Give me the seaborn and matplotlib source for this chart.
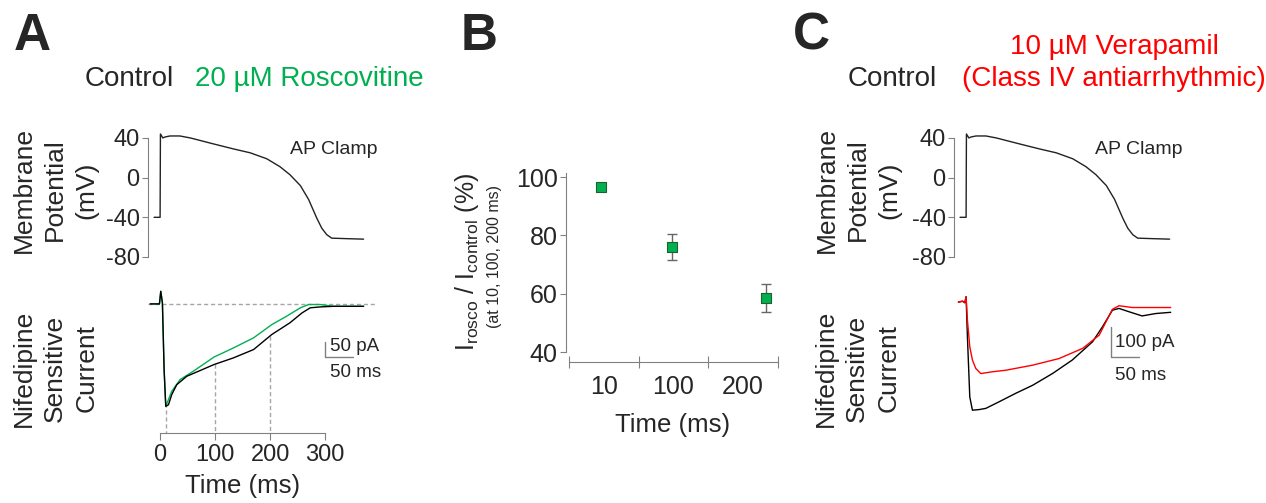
import numpy as np
import pandas as pd
import matplotlib
matplotlib.use("Agg")
import matplotlib.pyplot as plt
import seaborn as sns

'data read off the figure'
# AP clamp waveform (same command in A and C): time (ms), membrane potential (mV)
ap_time = [-11, 0, 0.6, 5, 9, 18, 36, 55, 97, 133, 164, 194, 218, 236, 255,
           270, 285, 294, 303, 312, 339, 370]
ap_mv = [-40, -40, 44, 40, 41, 42, 42, 40, 34, 29, 25, 19, 11, 3, -8,
         -22, -41, -51, -57.5, -61, -61.5, -62]

# A: nifedipine sensitive current (pA), control (black) and roscovitine (green)
a_ctrl_time = [-18, -1.2, 1.2, 4.2, 7.3, 10.3, 15.2, 21.2, 30.3, 48.5, 72.7, 98,
               133, 170, 203, 236, 258, 273, 291, 315, 370]
a_ctrl_pa = [0, 0, 42, 3, -219, -341, -336, -302, -269, -241, -222, -202,
             -180, -152, -102, -63, -30, -13, -10, -8, -8]
a_rosco_time = [-18, -1.2, 1.2, 4.2, 7.3, 10.3, 21.2, 36.4, 60.6, 98, 133, 170,
                203, 230, 255, 270, 291, 315, 370]
a_rosco_pa = [0, 0, 42, 3, -219, -341, -291, -252, -224, -177, -147, -113,
              -69, -41, -13, -2, -2, -8, -8]
a_marks = [10, 100, 200]

# B: I_rosco / I_control (%)
b_times = ["10", "100", "200"]
b_ratio = [96.6, 76.0, 58.5]
b_sem = [1.5, 4.6, 4.8]

# C: control (black) and verapamil (red)
c_ctrl_time = [-14, -6.6, -2.4, 0, 2.4, 6.7, 11.5, 23.6, 35.8, 60, 90, 121, 157,
               193, 230, 248, 266, 278, 296, 320, 345, 372]
c_ctrl_pa = [0, 3, -2, 18, -116, -316, -360, -358, -354, -332, -304, -277, -238,
             -193, -132, -82, -27, -21, -32, -46, -38, -34]
c_vera_time = [-14, -6.6, -2.4, 0, 2.4, 6.7, 11.5, 17.6, 26.7, 48, 72, 121, 169,
               212, 242, 266, 278, 302, 372]
c_vera_pa = [0, 3, -2, 18, -60, -149, -193, -221, -238, -232, -227, -210, -188,
             -154, -110, -24, -12, -18, -18]

green = "#00b050"
red = "#ff0000"
gray = "#808080"

sns.set_style("white")
plt.rcParams['font.family'] = ['Liberation Sans', 'DejaVu Sans']
plt.rcParams['axes.unicode_minus'] = False
plt.rcParams['mathtext.fontset'] = 'custom'
plt.rcParams['mathtext.rm'] = 'Liberation Sans'
plt.rcParams['mathtext.it'] = 'Liberation Sans:italic'

W, H = 1266, 503
fig = plt.figure(figsize=(W / 100, H / 100), dpi=100)


def box(l, t, r, b):
    return [l / W, 1 - b / H, (r - l) / W, (b - t) / H]


def ftext(x, y, s, **kw):
    fig.text(x / W, 1 - y / H, s, **kw)


def clean(ax):
    for s in ax.spines.values():
        s.set_visible(False)
    ax.set_xticks([])
    ax.set_yticks([])
    ax.set_xlabel("")
    ax.set_ylabel("")


def ap_axes(left):
    ax = fig.add_axes(box(left, 132, left + 226.6, 257))
    sns.lineplot(x=ap_time, y=ap_mv, ax=ax, color="#222222", lw=1, sort=False)
    clean(ax)
    ax.set_xlim(-22, 390)
    ax.set_ylim(-80, 46)
    ax.spines['left'].set_visible(True)
    ax.spines['left'].set_color(gray)
    ax.spines['left'].set_bounds(-80, 40)
    ax.set_yticks([40, 0, -40, -80])
    ax.tick_params(axis='y', direction='out', length=4, color=gray,
                   labelsize=17, pad=2, left=True)
    return ax


# ---------------- A ----------------
ap_axes(148)
axa = fig.add_axes(box(148, 285, 374.6, 433))
sns.lineplot(x=a_rosco_time, y=a_rosco_pa, ax=axa, color=green, lw=1, sort=False)
sns.lineplot(x=a_ctrl_time, y=a_ctrl_pa, ax=axa, color="black", lw=1, sort=False)
clean(axa)
axa.set_xlim(-22, 390)
axa.set_ylim(-430, 63)
axa.axhline(0, color="#a6a6a6", lw=1, ls=(0, (3, 2)), zorder=0)
for t in a_marks:
    top = np.interp(t, a_ctrl_time, a_ctrl_pa)
    axa.plot([t, t], [top, -430], color="#a6a6a6", lw=1, ls=(0, (3, 2)), zorder=0)
axa.spines['bottom'].set_visible(True)
axa.spines['bottom'].set_color(gray)
axa.spines['bottom'].set_bounds(0, 300)
axa.set_xticks([0, 100, 200, 300])
axa.tick_params(axis='x', direction='out', length=5, color=gray,
                labelsize=17, pad=3, bottom=True)
# scale bar
axa.plot([300, 300, 351], [-127, -177, -177], color=gray, lw=1)
axa.text(309, -143, "50 pA", fontsize=13.5, va='center', ha='left')
axa.text(309, -227, "50 ms", fontsize=13.5, va='center', ha='left')

ftext(32, 36, "A", fontsize=37, fontweight='bold', ha='center', va='center')
ftext(85, 79, "Control", fontsize=20, ha='left', va='center')
ftext(195, 79, "20 µM Roscovitine", fontsize=20, ha='left', va='center', color=green)
ftext(290, 150, "AP Clamp", fontsize=14, ha='left', va='center')
ftext(55, 190, "Membrane\nPotential\n(mV)", fontsize=19, rotation=90,
      ha='center', va='center', linespacing=1.38)
ftext(55, 368, "Nifedipine\nSensitive\nCurrent", fontsize=19, rotation=90,
      ha='center', va='center', linespacing=1.38)
ftext(243, 486, "Time (ms)", fontsize=18.5, ha='center', va='center')

# ---------------- B ----------------
axb = fig.add_axes(box(566, 170, 778, 362))
b_offset = [-0.04, -0.02, 0.33]
b_x = [i + 0.5 + o for i, o in enumerate(b_offset)]
df_b = pd.DataFrame({"x": b_x, "ratio": b_ratio})
axb.errorbar(b_x, b_ratio, yerr=b_sem, fmt='none', ecolor="#666666",
             elinewidth=1, capsize=3.5, capthick=1, zorder=2)
sns.scatterplot(data=df_b, x="x", y="ratio", ax=axb, marker='s', s=55,
                color=green, edgecolor="#1f5f2f", linewidth=0.8, zorder=3)
axb.set_xlim(-0.043, 3)
axb.set_ylim(36.6, 102.4)
axb.set_xlabel("")
axb.set_ylabel("")
for s in ['top', 'right']:
    axb.spines[s].set_visible(False)
axb.spines['left'].set_color(gray)
axb.spines['bottom'].set_color(gray)
axb.spines['left'].set_bounds(40, 101.4)
axb.spines['bottom'].set_bounds(0, 3)
axb.set_yticks([40, 60, 80, 100])
axb.set_xticks([0, 1, 2, 3])
axb.set_xticklabels([])
axb.set_xticks([0.5, 1.5, 2.5], minor=True)
axb.set_xticklabels(b_times, minor=True)
axb.tick_params(axis='y', direction='out', length=4, color=gray, labelsize=18,
                pad=2, left=True)
axb.tick_params(axis='x', which='major', direction='inout', length=8,
                color=gray, bottom=True)
axb.tick_params(axis='x', which='minor', length=0, labelsize=18, pad=9,
                bottom=True)

ftext(479, 36, "B", fontsize=37, fontweight='bold', ha='center', va='center')
ftext(467, 262, r"I$_{\mathrm{rosco}}$ / I$_{\mathrm{control}}$ (%)", fontsize=18,
      rotation=90, ha='center', va='center')
ftext(495, 256, "(at 10, 100, 200 ms)", fontsize=11.5, rotation=90,
      ha='center', va='center')
ftext(673, 425, "Time (ms)", fontsize=18.5, ha='center', va='center')

# ---------------- C ----------------
ap_axes(954)
axc = fig.add_axes(box(954, 285, 1180.6, 433))
sns.lineplot(x=c_ctrl_time, y=c_ctrl_pa, ax=axc, color="black", lw=1, sort=False)
sns.lineplot(x=c_vera_time, y=c_vera_pa, ax=axc, color=red, lw=1, sort=False)
clean(axc)
axc.set_xlim(-22, 390)
axc.set_ylim(-436, 57)
axc.plot([264, 264, 315], [-83, -183, -183], color=gray, lw=1)
axc.text(271, -133, "100 pA", fontsize=13.5, va='center', ha='left')
axc.text(271, -243, "50 ms", fontsize=13.5, va='center', ha='left')

ftext(811, 36, "C", fontsize=37, fontweight='bold', ha='center', va='center')
ftext(848, 79, "Control", fontsize=20, ha='left', va='center')
ftext(1114, 47, "10 µM Verapamil", fontsize=20, ha='center', va='center', color=red)
ftext(1114, 79, "(Class IV antiarrhythmic)", fontsize=20, ha='center',
      va='center', color=red)
ftext(1095, 150, "AP Clamp", fontsize=14, ha='left', va='center')
ftext(858, 190, "Membrane\nPotential\n(mV)", fontsize=19, rotation=90,
      ha='center', va='center', linespacing=1.38)
ftext(857, 368, "Nifedipine\nSensitive\nCurrent", fontsize=19, rotation=90,
      ha='center', va='center', linespacing=1.38)

fig.savefig("out.png", dpi=100)
